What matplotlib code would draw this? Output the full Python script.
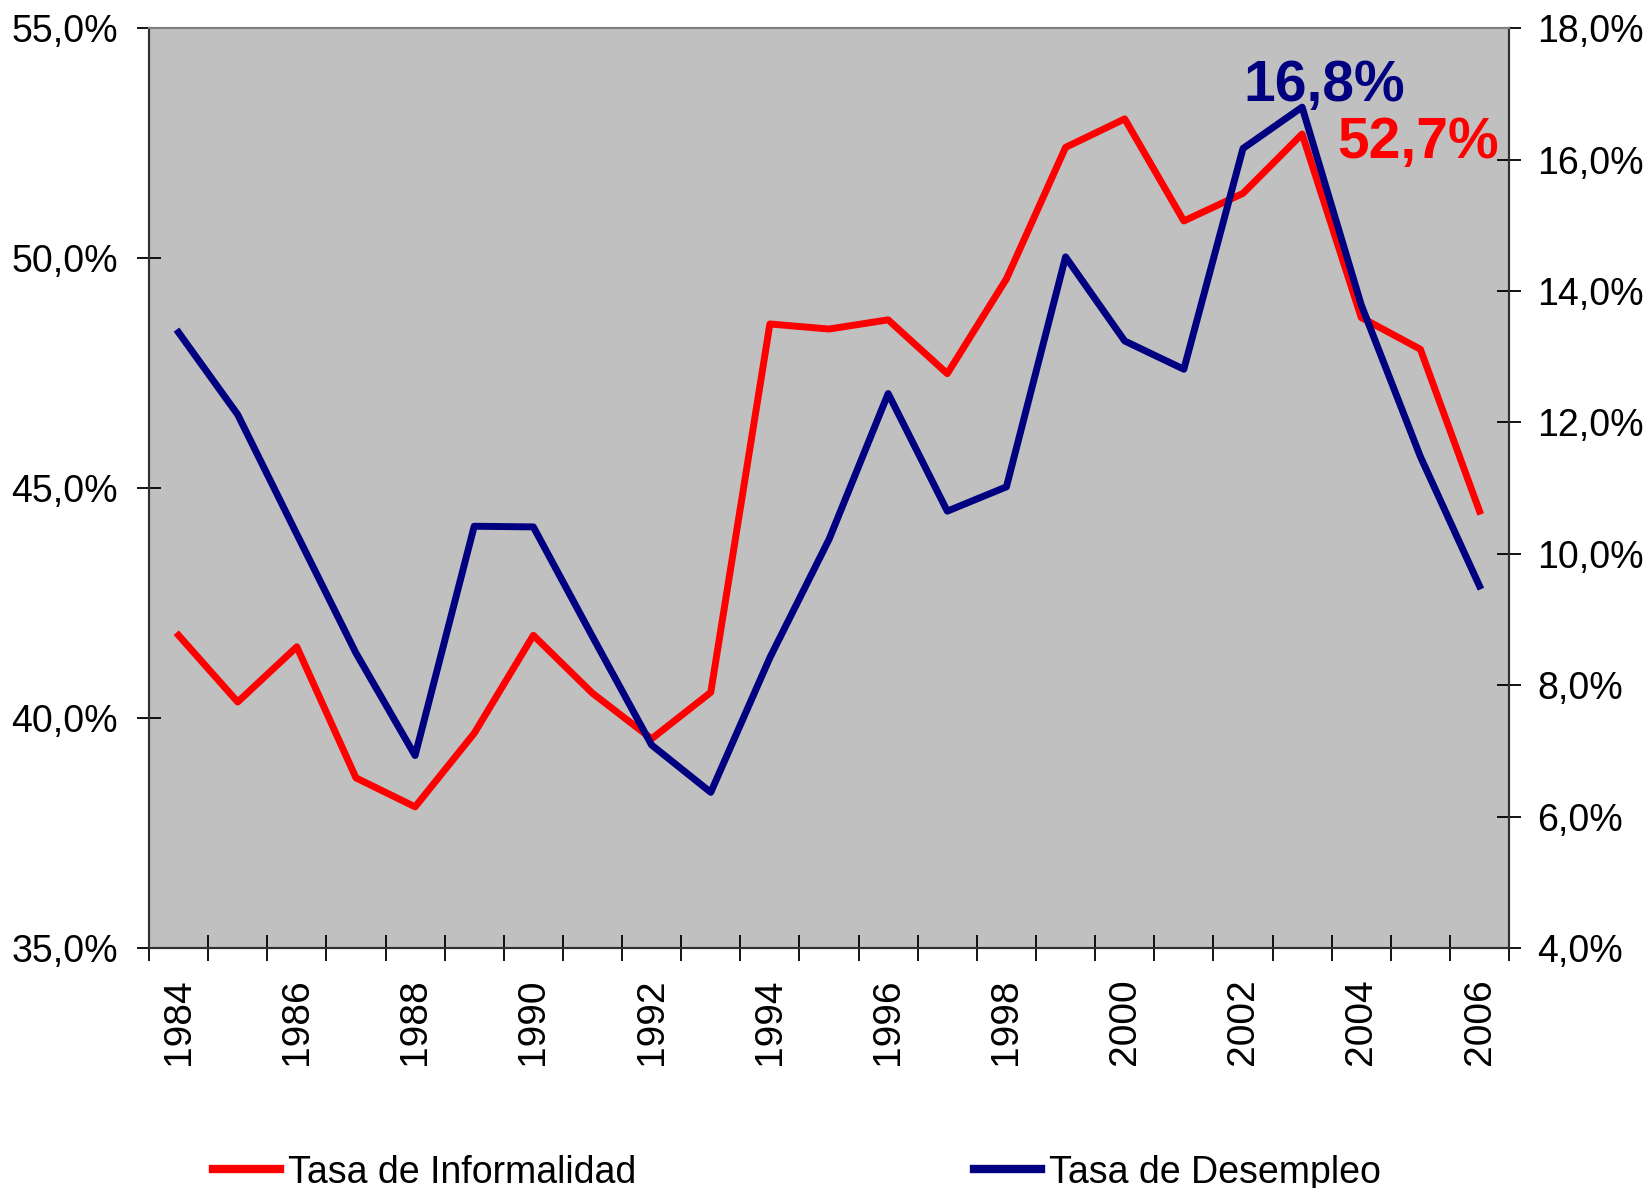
import matplotlib.pyplot as plt
from matplotlib.lines import Line2D

# datos
anios = list(range(1984, 2007))
informalidad = [41.8, 40.35, 41.55, 38.7, 38.07, 39.67, 41.8, 40.54, 39.55, 40.56,
                48.57, 48.46, 48.66, 47.49, 49.55, 52.41, 53.03, 50.81, 51.41, 52.7,
                48.71, 48.02, 44.5]
desempleo = [13.37, 12.12, 10.3, 8.49, 6.93, 10.42, 10.41, 8.74, 7.09, 6.37,
             8.42, 10.22, 12.44, 10.65, 11.02, 14.52, 13.24, 12.81, 16.17, 16.8,
             13.79, 11.48, 9.51]
ticks_izq = [35, 40, 45, 50, 55]
ticks_der = [4, 6, 8, 10, 12, 14, 16, 18]
anios_etiqueta = list(range(1984, 2007, 2))

rojo = '#FF0000'
azul = '#000080'

plt.rcParams['font.family'] = ['Liberation Sans', 'DejaVu Sans']

fig = plt.figure(figsize=(16.48, 11.88), dpi=100)
ax = fig.add_axes([0.0904, 0.202, 0.8253, 0.7742])
ax.set_facecolor('#C0C0C0')
ax.plot(anios, informalidad, color=rojo, lw=5, solid_joinstyle='round')
ax.set_xlim(1983.5, 2006.5)
ax.set_ylim(35, 55)
ax.set_yticks(ticks_izq)
ax.set_yticklabels([f"{v:.1f}%".replace('.', ',') for v in ticks_izq])

# marcas en limites de categoria, etiquetas en el centro
ax.set_xticks([a - 0.5 for a in anios] + [2006.5])
ax.set_xticklabels([])
ax.set_xticks(anios_etiqueta, minor=True)
ax.set_xticklabels([str(a) for a in anios_etiqueta], minor=True, rotation=90)
ax.tick_params(axis='x', which='major', direction='inout', length=19, width=1.3)
ax.tick_params(axis='x', which='minor', length=0, pad=22, labelsize=28)
ax.tick_params(axis='y', direction='inout', length=17, width=1.3, pad=14, labelsize=27)

ax2 = ax.twinx()
ax2.plot(anios, desempleo, color=azul, lw=5, solid_joinstyle='round')
ax2.set_ylim(4, 18)
ax2.set_yticks(ticks_der)
ax2.set_yticklabels([f"{v:.1f}%".replace('.', ',') for v in ticks_der])
ax2.tick_params(axis='y', direction='inout', length=17, width=1.3, pad=12, labelsize=27)

for a in (ax, ax2):
    a.spines['top'].set_color('#808080')
    a.spines['top'].set_linewidth(1.5)
    for s in ('left', 'right', 'bottom'):
        a.spines[s].set_color('#303030')
        a.spines[s].set_linewidth(1.5)

ax2.text(2003.37, 16.9, '16,8%', color=azul, fontsize=41, fontweight='bold',
         ha='center', va='baseline')
ax.text(2003.6, 52.17, '52,7%', color=rojo, fontsize=41, fontweight='bold',
        ha='left', va='baseline')

handles = [Line2D([], [], color=rojo, lw=6), Line2D([], [], color=azul, lw=6)]
fig.legend(handles, ['Tasa de Informalidad', 'Tasa de Desempleo'],
           loc='center left', bbox_to_anchor=(0.12, 0.013), ncol=2, frameon=False,
           prop={'size': 27},
           handlelength=1.8, handletextpad=0.2, columnspacing=9.0, borderaxespad=0)

plt.savefig('out.png', dpi=100)
